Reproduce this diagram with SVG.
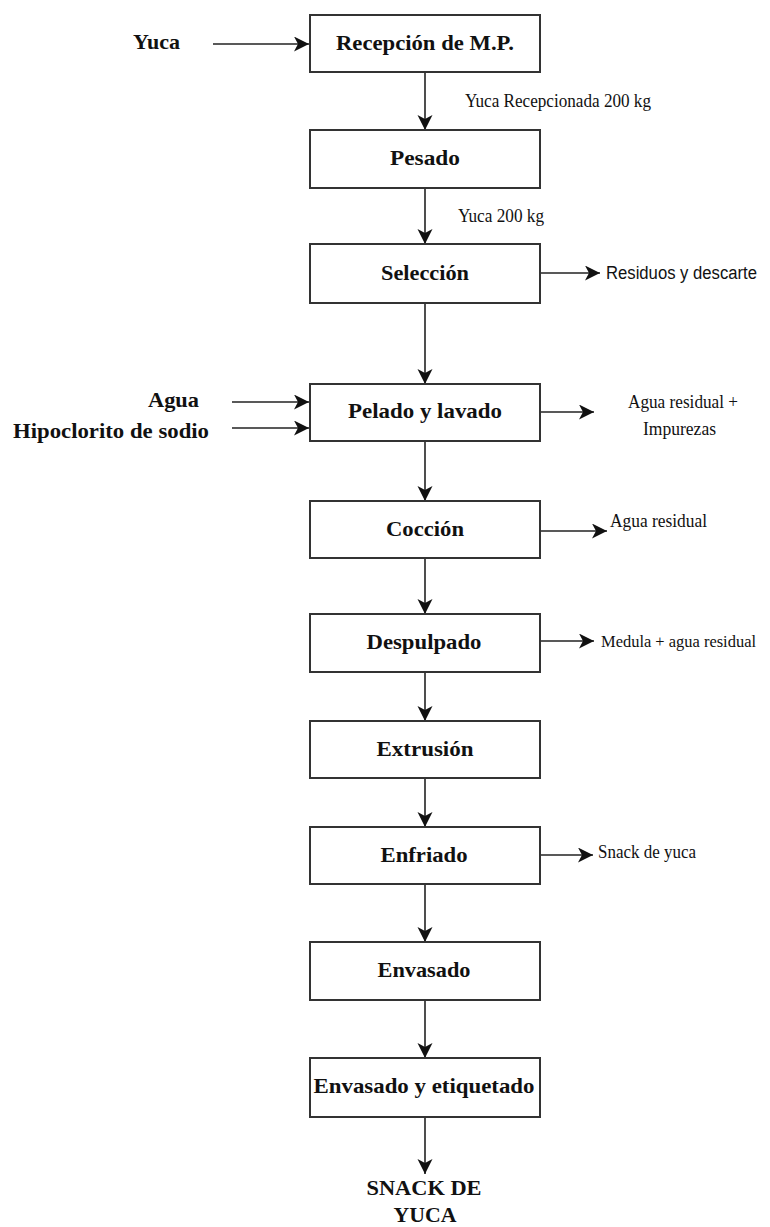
<svg xmlns="http://www.w3.org/2000/svg" width="770" height="1227" viewBox="0 0 770 1227">
  <style>
    .box { fill: #ffffff; stroke: #333333; stroke-width: 2; }
    .step { font-family: "Liberation Serif", "Times New Roman", serif; font-weight: bold; font-size: 22px; fill: #111111; text-anchor: middle; }
    .input { font-family: "Liberation Serif", "Times New Roman", serif; font-weight: bold; font-size: 21px; fill: #111111; }
    .note { font-family: "Liberation Serif", "Times New Roman", serif; font-size: 19px; fill: #111111; }
    .note-small { font-family: "Liberation Serif", "Times New Roman", serif; font-size: 17px; fill: #111111; }
    .note-sans { font-family: "Liberation Sans", Arial, sans-serif; font-size: 18px; fill: #111111; }
    .flow { fill: none; stroke: #222222; stroke-width: 1.6; }
  </style>
  <defs>
    <marker id="arrow" markerUnits="userSpaceOnUse" markerWidth="16" markerHeight="16" refX="15" refY="7.5" orient="auto">
      <path d="M0,0 L15,7.5 L0,15 L4,7.5 Z" fill="#111111"/>
    </marker>
  </defs>
  <rect width="770" height="1227" fill="#ffffff"/>

  <!-- connectors -->
  <g id="connectors">
    <line class="flow" x1="213" y1="44" x2="309" y2="44" marker-end="url(#arrow)"/>
    <line class="flow" x1="425" y1="72" x2="425" y2="130" marker-end="url(#arrow)"/>
    <line class="flow" x1="425" y1="188" x2="425" y2="244" marker-end="url(#arrow)"/>
    <line class="flow" x1="540" y1="273" x2="600" y2="273" marker-end="url(#arrow)"/>
    <line class="flow" x1="425" y1="303" x2="425" y2="384" marker-end="url(#arrow)"/>
    <line class="flow" x1="232" y1="402" x2="309" y2="402" marker-end="url(#arrow)"/>
    <line class="flow" x1="232" y1="428" x2="309" y2="428" marker-end="url(#arrow)"/>
    <line class="flow" x1="540" y1="412" x2="594" y2="412" marker-end="url(#arrow)"/>
    <line class="flow" x1="425" y1="441" x2="425" y2="501" marker-end="url(#arrow)"/>
    <line class="flow" x1="540" y1="531" x2="607" y2="531" marker-end="url(#arrow)"/>
    <line class="flow" x1="425" y1="558" x2="425" y2="614" marker-end="url(#arrow)"/>
    <line class="flow" x1="540" y1="641" x2="594" y2="641" marker-end="url(#arrow)"/>
    <line class="flow" x1="425" y1="672" x2="425" y2="721" marker-end="url(#arrow)"/>
    <line class="flow" x1="425" y1="778" x2="425" y2="827" marker-end="url(#arrow)"/>
    <line class="flow" x1="540" y1="855" x2="593" y2="855" marker-end="url(#arrow)"/>
    <line class="flow" x1="425" y1="884" x2="425" y2="942" marker-end="url(#arrow)"/>
    <line class="flow" x1="425" y1="1000" x2="425" y2="1058" marker-end="url(#arrow)"/>
    <line class="flow" x1="425" y1="1117" x2="425" y2="1174" marker-end="url(#arrow)"/>
  </g>

  <!-- process steps -->
  <g id="recepcion">
    <rect class="box" x="310" y="15" width="230" height="57"/>
    <text class="step" x="425" y="50" textLength="178" lengthAdjust="spacingAndGlyphs">Recepción de M.P.</text>
  </g>
  <g id="pesado">
    <rect class="box" x="310" y="130" width="230" height="58"/>
    <text class="step" x="425" y="165" textLength="70" lengthAdjust="spacingAndGlyphs">Pesado</text>
  </g>
  <g id="seleccion">
    <rect class="box" x="310" y="244" width="230" height="59"/>
    <text class="step" x="425" y="280" textLength="88" lengthAdjust="spacingAndGlyphs">Selección</text>
  </g>
  <g id="pelado">
    <rect class="box" x="310" y="384" width="230" height="57"/>
    <text class="step" x="425" y="418" textLength="154" lengthAdjust="spacingAndGlyphs">Pelado y lavado</text>
  </g>
  <g id="coccion">
    <rect class="box" x="310" y="501" width="230" height="57"/>
    <text class="step" x="425" y="536" textLength="78" lengthAdjust="spacingAndGlyphs">Cocción</text>
  </g>
  <g id="despulpado">
    <rect class="box" x="310" y="614" width="230" height="58"/>
    <text class="step" x="424" y="649" textLength="115" lengthAdjust="spacingAndGlyphs">Despulpado</text>
  </g>
  <g id="extrusion">
    <rect class="box" x="310" y="721" width="230" height="57"/>
    <text class="step" x="425" y="756" textLength="97" lengthAdjust="spacingAndGlyphs">Extrusión</text>
  </g>
  <g id="enfriado">
    <rect class="box" x="310" y="827" width="230" height="57"/>
    <text class="step" x="424" y="862" textLength="87" lengthAdjust="spacingAndGlyphs">Enfriado</text>
  </g>
  <g id="envasado">
    <rect class="box" x="310" y="942" width="230" height="58"/>
    <text class="step" x="424" y="977" textLength="93" lengthAdjust="spacingAndGlyphs">Envasado</text>
  </g>
  <g id="etiquetado">
    <rect class="box" x="310" y="1058" width="230" height="59"/>
    <text class="step" x="424" y="1093" textLength="221" lengthAdjust="spacingAndGlyphs">Envasado y etiquetado</text>
  </g>

  <!-- inputs -->
  <g id="in-yuca">
    <text class="input" x="133" y="49" textLength="47" lengthAdjust="spacingAndGlyphs">Yuca</text>
  </g>
  <g id="in-agua">
    <text class="input" x="148" y="407" textLength="51" lengthAdjust="spacingAndGlyphs">Agua</text>
  </g>
  <g id="in-hipoclorito">
    <text class="input" x="13" y="438" textLength="196" lengthAdjust="spacingAndGlyphs">Hipoclorito de sodio</text>
  </g>

  <!-- flow notes -->
  <g id="note-recepcionada">
    <text class="note" x="465" y="107" textLength="186" lengthAdjust="spacingAndGlyphs">Yuca Recepcionada 200 kg</text>
  </g>
  <g id="note-yuca200">
    <text class="note" x="458" y="222" textLength="86" lengthAdjust="spacingAndGlyphs">Yuca 200 kg</text>
  </g>

  <!-- outputs -->
  <g id="out-residuos">
    <text class="note-sans" x="606" y="279" textLength="151" lengthAdjust="spacingAndGlyphs">Residuos y descarte</text>
  </g>
  <g id="out-agua-impurezas">
    <text class="note" x="628" y="408" textLength="110" lengthAdjust="spacingAndGlyphs">Agua residual +</text>
    <text class="note" x="643" y="435" textLength="73" lengthAdjust="spacingAndGlyphs">Impurezas</text>
  </g>
  <g id="out-agua-residual">
    <text class="note" x="610" y="527" textLength="97" lengthAdjust="spacingAndGlyphs">Agua residual</text>
  </g>
  <g id="out-medula">
    <text class="note-small" x="601" y="647" textLength="155" lengthAdjust="spacingAndGlyphs">Medula + agua residual</text>
  </g>
  <g id="out-snack">
    <text class="note" x="598" y="858" textLength="98" lengthAdjust="spacingAndGlyphs">Snack de yuca</text>
  </g>

  <!-- final product -->
  <g id="producto-final">
    <text class="step" x="424" y="1195" textLength="115" lengthAdjust="spacingAndGlyphs">SNACK DE</text>
    <text class="step" x="425" y="1222" textLength="63" lengthAdjust="spacingAndGlyphs">YUCA</text>
  </g>
</svg>
